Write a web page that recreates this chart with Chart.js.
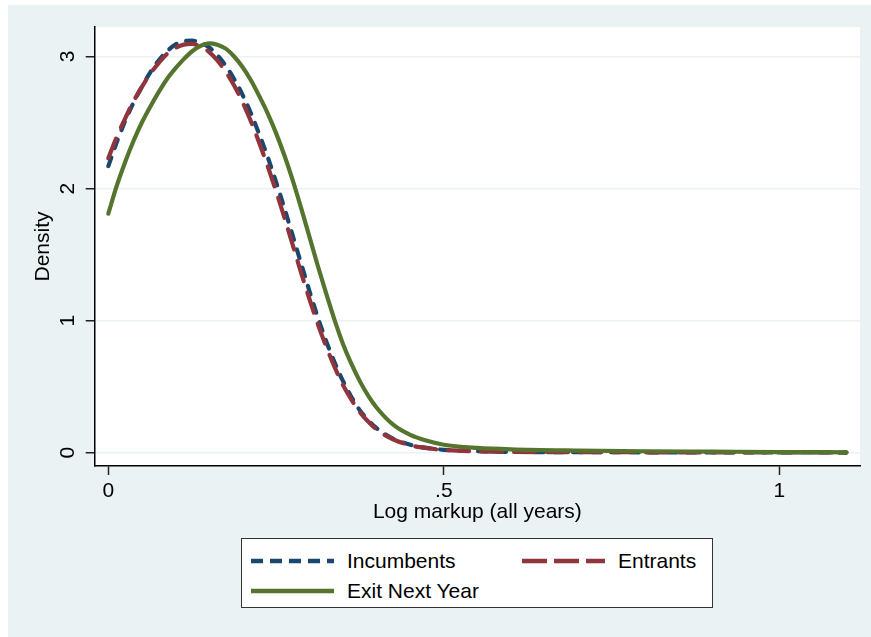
<!DOCTYPE html>
<html>

<head>
    <meta charset="utf-8">
    <title>Log markup density</title>
    <script src="https://cdn.jsdelivr.net/npm/chart.js@4.4.0/dist/chart.umd.min.js"></script>
    <style>
        html,
        body {
            margin: 0;
            padding: 0;
            background: #fff;
            font-family: "Liberation Sans", Arial, sans-serif;
        }

        #frame {
            position: absolute;
            left: 8px;
            top: 5px;
            width: 863px;
            height: 632px;
            background: #eaf2f3;
        }

        #wrap {
            position: absolute;
            left: 0;
            top: 0;
            width: 871px;
            height: 637px;
        }

        #legend {
            position: absolute;
            left: 241px;
            top: 538px;
            width: 470px;
            height: 68px;
            background: #fff;
            border: 1.5px solid #333;
            font-size: 21px;
            color: #000;
        }

        #legend .item {
            position: absolute;
            height: 30px;
            line-height: 30px;
        }

        #legend svg {
            position: absolute;
            top: 0;
        }

        #legend span {
            position: absolute;
            white-space: nowrap;
        }
    </style>
</head>

<body>
<div id="frame"></div>
<div id="wrap">
    <canvas id="densityChart" width="871" height="637"></canvas>
</div>
<div id="legend"></div>
<script>
    // log markup grid and kernel density estimates
    var markup = [0, 0.0125, 0.025, 0.0375, 0.05, 0.0625, 0.075, 0.0875, 0.1, 0.1125, 0.125, 0.1375, 0.15, 0.1625, 0.175,
        0.1875, 0.2, 0.2125, 0.225, 0.2375, 0.25, 0.2625, 0.275, 0.2875, 0.3, 0.3125, 0.325, 0.3375, 0.35, 0.3625,
        0.375, 0.3875, 0.4, 0.425, 0.45, 0.475, 0.5, 0.55, 0.6, 0.7, 0.8, 0.9, 1.0, 1.1];

    var incumbents = [2.17, 2.35, 2.51, 2.65, 2.77, 2.88, 2.97, 3.04, 3.09, 3.115, 3.12, 3.105, 3.07, 3.01, 2.93,
        2.83, 2.71, 2.57, 2.41, 2.24, 2.05, 1.85, 1.64, 1.43, 1.22, 1.02, 0.84, 0.68, 0.54, 0.42,
        0.32, 0.245, 0.185, 0.105, 0.06, 0.036, 0.022, 0.011, 0.006, 0.004, 0.003, 0.002, 0.002, 0.001];

    var entrants = [2.23, 2.39, 2.53, 2.66, 2.77, 2.87, 2.95, 3.02, 3.065, 3.09, 3.095, 3.075, 3.035, 2.97, 2.885,
        2.78, 2.655, 2.51, 2.345, 2.17, 1.98, 1.78, 1.57, 1.36, 1.16, 0.97, 0.80, 0.645, 0.51, 0.40,
        0.305, 0.235, 0.175, 0.10, 0.057, 0.034, 0.021, 0.010, 0.006, 0.004, 0.003, 0.002, 0.002, 0.001];

    var exitNextYear = [1.81, 2.02, 2.20, 2.36, 2.50, 2.62, 2.73, 2.83, 2.91, 2.98, 3.04, 3.08, 3.10, 3.09, 3.06,
        3.00, 2.92, 2.82, 2.70, 2.57, 2.42, 2.25, 2.06, 1.85, 1.63, 1.41, 1.20, 1.00, 0.82, 0.67,
        0.54, 0.43, 0.34, 0.21, 0.135, 0.09, 0.06, 0.036, 0.025, 0.016, 0.011, 0.008, 0.005, 0.003];

    var xTicks = [0, 0.5, 1];
    var yTicks = [0, 1, 2, 3];
    var xTickLabels = ['0', '.5', '1'];

    var seriesNames = ['Incumbents', 'Entrants', 'Exit Next Year'];
    var seriesColors = ['#1a476f', '#90353b', '#55752f'];
    var seriesDash = [[9, 10], [21, 12], []];

    function toPoints(values) {
        return values.map(function (v, i) {
            return {x: markup[i], y: v};
        });
    }

    var seriesValues = [incumbents, entrants, exitNextYear];
    var datasets = seriesValues.map(function (vals, i) {
        return {
            label: seriesNames[i],
            data: toPoints(vals),
            borderColor: seriesColors[i],
            borderWidth: 4.2,
            borderDash: seriesDash[i],
            borderCapStyle: 'round',
            borderJoinStyle: 'round',
            cubicInterpolationMode: 'monotone',
            pointRadius: 0,
            fill: false,
            // later series sit on top
            order: 2 - i
        };
    });

    var fontSpec = {family: '"Liberation Sans", Arial, sans-serif', size: 21, lineHeight: 1.2};

    // white plot region behind the curves
    var plotBackground = {
        id: 'plotBackground',
        beforeDraw: function (chart) {
            var a = chart.chartArea;
            var c = chart.ctx;
            c.save();
            c.fillStyle = '#fff';
            c.fillRect(a.left, a.top, a.right - a.left, a.bottom - a.top);
            c.restore();
        }
    };

    var ctx = document.getElementById('densityChart').getContext('2d');
    window.densityChart = new Chart(ctx, {
        type: 'line',
        data: {datasets: datasets},
        plugins: [plotBackground],
        options: {
            responsive: false,
            animation: false,
            events: [],
            layout: {
                padding: {left: 20, top: 27, right: 11, bottom: 112}
            },
            plugins: {
                legend: {display: false},
                tooltip: {enabled: false}
            },
            scales: {
                x: {
                    type: 'linear',
                    min: -0.0203,
                    max: 1.1203,
                    afterFit: function (scale) {
                        scale.height = 59;
                    },
                    afterBuildTicks: function (scale) {
                        scale.ticks = xTicks.map(function (v) {
                            return {value: v};
                        });
                    },
                    ticks: {
                        font: fontSpec,
                        color: '#000',
                        padding: 4,
                        maxRotation: 0,
                        autoSkip: false,
                        callback: function (v) {
                            return xTickLabels[xTicks.indexOf(v)];
                        }
                    },
                    grid: {
                        drawOnChartArea: false,
                        drawTicks: true,
                        tickLength: 9,
                        tickColor: '#222',
                        tickWidth: 1.5
                    },
                    border: {color: '#000', width: 1.5},
                    title: {
                        display: true,
                        text: 'Log markup (all years)',
                        font: fontSpec,
                        color: '#000',
                        padding: 0
                    }
                },
                y: {
                    type: 'linear',
                    min: -0.1008,
                    max: 3.2235,
                    afterFit: function (scale) {
                        scale.width = 74.7;
                    },
                    afterBuildTicks: function (scale) {
                        scale.ticks = yTicks.map(function (v) {
                            return {value: v};
                        });
                    },
                    ticks: {
                        font: fontSpec,
                        color: '#000',
                        padding: 11.4,
                        minRotation: 90,
                        maxRotation: 90,
                        crossAlign: 'center',
                        autoSkip: false,
                        callback: function (v) {
                            return String(v);
                        }
                    },
                    grid: {
                        color: '#eaf2f3',
                        lineWidth: 1.5,
                        drawTicks: true,
                        tickLength: 9,
                        tickColor: '#222',
                        tickWidth: 1.5
                    },
                    border: {color: '#000', width: 1.5},
                    title: {
                        display: true,
                        text: 'Density',
                        font: fontSpec,
                        color: '#000',
                        padding: {top: 10.4, bottom: 0}
                    }
                }
            }
        }
    });

    // two-column legend box under the plot
    var legendSlots = [
        {left: 9, top: 7, textLeft: 105},
        {left: 280, top: 7, textLeft: 376},
        {left: 9, top: 37, textLeft: 105}
    ];
    var legendBox = document.getElementById('legend');
    seriesNames.forEach(function (name, i) {
        var slot = legendSlots[i];
        var item = document.createElement('div');
        item.className = 'item';
        item.style.left = '0px';
        item.style.top = slot.top + 'px';
        item.style.width = '460px';
        var dash = seriesDash[i].length ? ' stroke-dasharray="' + (i === 0 ? '12 7' : '25 7') + '"' : '';
        item.innerHTML = '<svg width="84" height="30" style="left:' + slot.left + 'px">' +
            '<line x1="0" y1="15" x2="83" y2="15" stroke="' + seriesColors[i] + '" stroke-width="4.5"' + dash + '/></svg>' +
            '<span style="left:' + slot.textLeft + 'px">' + name + '</span>';
        legendBox.appendChild(item);
    });
</script>
</body>

</html>
